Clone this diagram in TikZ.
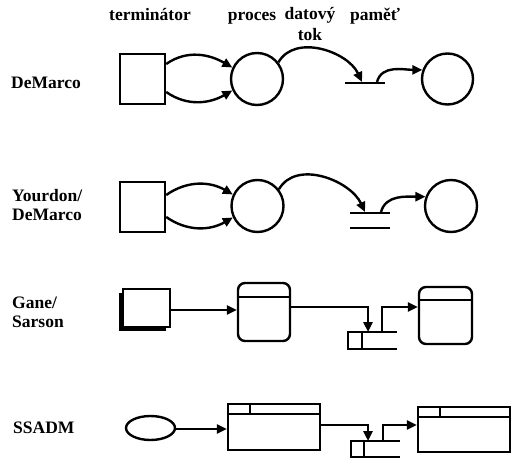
\documentclass[tikz,border=0pt]{standalone}
\usepackage{fontspec}
\setmainfont{Liberation Serif}
\usetikzlibrary{arrows.meta,shapes.geometric,shadows}

\tikzset{
  flow/.style={line width=2.4pt, -{Triangle[length=10pt,width=9pt]}},
  label/.style={font=\bfseries\fontsize{17.5}{19}\selectfont, inner sep=0pt},
  store/.style={inner sep=0pt, outer sep=0pt},
}

\begin{document}
\begin{tikzpicture}[x=1pt, y=-1pt, line width=2.4pt, inner sep=0pt]
\useasboundingbox (0,0) rectangle (529,462);

% column heads
\node[label, anchor=base] (hterm) at (150,21) {terminátor};
\node[label, anchor=base] (hproc) at (252,21) {proces};
\node[label, anchor=north, align=center] (hflow) at (310,6) {datový\\[2pt]tok};
\node[label, anchor=base] (hstore) at (375,21) {paměť};

% row labels
\node[label, anchor=base west] (lde) at (10,89) {DeMarco};
\node[label, anchor=north west, align=left] (lyd) at (11,188) {Yourdon/\\DeMarco};
\node[label, anchor=north west, align=left] (lgs) at (11,296) {Gane/\\Sarson};
\node[label, anchor=base west] (lss) at (12,433) {SSADM};

% DeMarco
\node[draw, minimum width=45pt, minimum height=50pt] (t1) at (142.5,79) {};
\node[draw, circle, minimum size=52pt] (p1) at (257,79) {};
\node[draw, circle, minimum size=51pt] (q1) at (447.5,79) {};
\node[store, minimum width=40pt] (s1) at (365,83) {};
\draw (s1.west) -- (s1.east);
\draw[flow] ([yshift=15pt]t1.east) to[out=35, in=150] (p1.155);
\draw[flow] ([yshift=-13pt]t1.east) to[out=-35, in=-150] (p1.205);
\draw[flow] (p1.38) to[out=60, in=115] ([xshift=-3pt, yshift=1pt]s1.center);
\draw[flow] ([xshift=12pt, yshift=1pt]s1.center) to[out=75, in=180] (q1.160);

% Yourdon/DeMarco
\node[draw, minimum width=45pt, minimum height=50pt] (t2) at (142.5,207) {};
\node[draw, circle, minimum size=52pt] (p2) at (257.5,206) {};
\node[draw, circle, minimum size=52pt] (q2) at (451,206) {};
\node[store, minimum width=40pt, minimum height=15pt] (s2) at (370,220.5) {};
\draw (s2.north west) -- (s2.north east);
\draw (s2.south west) -- (s2.south east);
\draw[flow] ([yshift=12pt]t2.east) to[out=35, in=150] (p2.155);
\draw[flow] ([yshift=-10pt]t2.east) to[out=-35, in=-150] (p2.205);
\draw[flow] (p2.38) to[out=60, in=115] ([xshift=-5pt, yshift=1pt]s2.north);
\draw[flow] ([xshift=11pt, yshift=1pt]s2.north) to[out=75, in=180] (q2.160);

% Gane/Sarson
\node[draw, fill=white, minimum width=47pt, minimum height=38pt,
  general shadow={fill=black, shadow xshift=-4pt, shadow yshift=-4pt}] (t3) at (146.5,308) {};
\node[draw, rounded corners=7pt, minimum width=52pt, minimum height=58pt] (p3) at (264,312) {};
\draw ([yshift=-15pt]p3.north west) -- ([yshift=-15pt]p3.north east);
\node[draw, rounded corners=7pt, minimum width=53pt, minimum height=57pt] (q3) at (445.5,315.5) {};
\draw ([yshift=-14pt]q3.north west) -- ([yshift=-14pt]q3.north east);
\node[store, minimum width=49pt, minimum height=17pt] (s3) at (372.5,340.5) {};
\draw (s3.north east) -- (s3.north west) -- (s3.south west) -- (s3.south east);
\draw ([xshift=14pt]s3.north west) -- ([xshift=14pt]s3.south west);
\draw[flow] ([yshift=-2pt]t3.east) -- ([yshift=-2pt]t3.east -| p3.west);
\draw[flow] ([yshift=5pt]p3.east) -| ([xshift=-4.5pt]s3.north);
\draw[flow] ([xshift=9.5pt]s3.north) |- ([yshift=8.5pt]q3.west);

% SSADM
\node[draw, ellipse, minimum width=49pt, minimum height=24pt] (t4) at (150.5,428) {};
\node[draw, minimum width=92pt, minimum height=46pt] (p4) at (274,427) {};
\draw ([yshift=-11pt]p4.north west) -- ([yshift=-11pt]p4.north east);
\draw ([xshift=23pt]p4.north west) -- ([xshift=23pt, yshift=-11pt]p4.north west);
\node[draw, minimum width=92pt, minimum height=45pt] (q4) at (464,429.5) {};
\draw ([yshift=-11pt]q4.north west) -- ([yshift=-11pt]q4.north east);
\draw ([xshift=23pt]q4.north west) -- ([xshift=23pt, yshift=-11pt]q4.north west);
\node[store, minimum width=49pt, minimum height=16pt] (s4) at (375.5,449) {};
\draw (s4.north east) -- (s4.north west) -- (s4.south west) -- (s4.south east);
\draw ([xshift=13pt]s4.north west) -- ([xshift=13pt]s4.south west);
\draw[flow] ([yshift=-1pt]t4.east) -- ([yshift=-1pt]t4.east -| p4.west);
\draw[flow] ([yshift=2pt]p4.east) -| ([xshift=-7.5pt]s4.north);
\draw[flow] ([xshift=7.5pt]s4.north) |- ([yshift=4.5pt]q4.west);
\end{tikzpicture}
\end{document}
